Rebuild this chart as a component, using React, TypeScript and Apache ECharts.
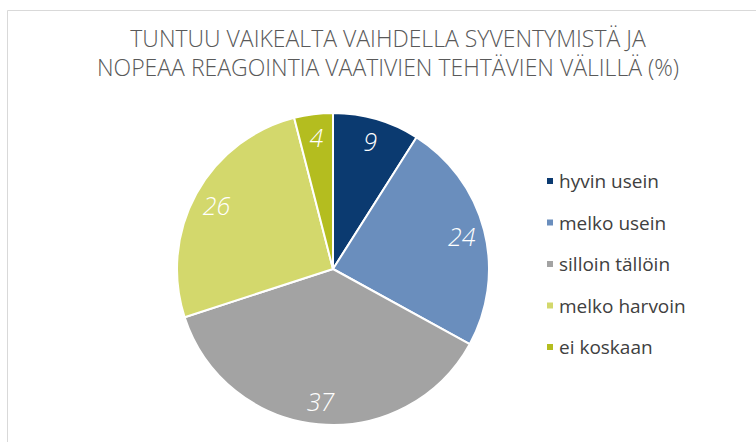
import React, { useEffect, useRef } from "react";
import * as echarts from "echarts";

const titleText = "TUNTUU VAIKEALTA VAIHDELLA SYVENTYMISTÄ JA\nNOPEAA REAGOINTIA VAATIVIEN TEHTÄVIEN VÄLILLÄ (%)";
const categories = ["hyvin usein", "melko usein", "silloin tällöin", "melko harvoin", "ei koskaan"];
const values = [9, 24, 37, 26, 4];
const colors = ["#0b3a70", "#6a8ebd", "#a3a3a3", "#d3d86c", "#b4bd1f"];

export default function App() {
  const ref = useRef<HTMLDivElement>(null);
  useEffect(() => {
    document.body.style.margin = "0";
    const chart = echarts.init(ref.current!, null, { renderer: "svg" });
    const data = categories.map((name, i) => ({ name, value: values[i], itemStyle: { color: colors[i] } }));
    const fontFamily = "'Open Sans', 'Noto Sans', sans-serif";
    chart.setOption({
      animation: false,
      backgroundColor: "#ffffff",
      title: {
        text: titleText,
        left: 388,
        textAlign: "center",
        top: 23,
        padding: 0,
        textStyle: {
          fontFamily,
          fontSize: 23,
          fontWeight: 300,
          color: "#595959",
          lineHeight: 29,
        },
      },
      legend: {
        orient: "vertical",
        left: 545,
        top: 171,
        padding: 0,
        itemWidth: 8,
        itemHeight: 8,
        itemGap: 21.5,
        icon: "rect",
        data: categories,
        textStyle: {
          fontFamily,
          fontSize: 19,
          color: "#404040",
          lineHeight: 20,
        },
      },
      graphic: [
        {
          type: "rect",
          silent: true,
          shape: { x: 7.5, y: 10.5, width: 780, height: 460 },
          style: { fill: "none", stroke: "#d9d9d9", lineWidth: 1 },
        },
      ],
      series: [
        {
          type: "pie",
          center: [333, 269],
          radius: [0, 156],
          startAngle: 90,
          clockwise: true,
          label: { show: false },
          labelLine: { show: false },
          itemStyle: { borderColor: "#ffffff", borderWidth: 2 },
          data,
        },
        {
          type: "pie",
          center: [333, 269],
          radius: [104, 156],
          startAngle: 90,
          clockwise: true,
          silent: true,
          legendHoverLink: false,
          label: {
            show: true,
            position: "inside",
            formatter: "{c}",
            fontFamily,
            fontSize: 25,
            fontWeight: 300,
            fontStyle: "italic",
            color: "#ffffff",
          },
          labelLine: { show: false },
          itemStyle: { color: "transparent", borderWidth: 0 },
          emphasis: { disabled: true },
          data: categories.map((name, i) => ({ name, value: values[i] })),
        },
      ],
    });
    return () => chart.dispose();
  }, []);
  return <div ref={ref} style={{ width: 756, height: 442 }} />;
}
